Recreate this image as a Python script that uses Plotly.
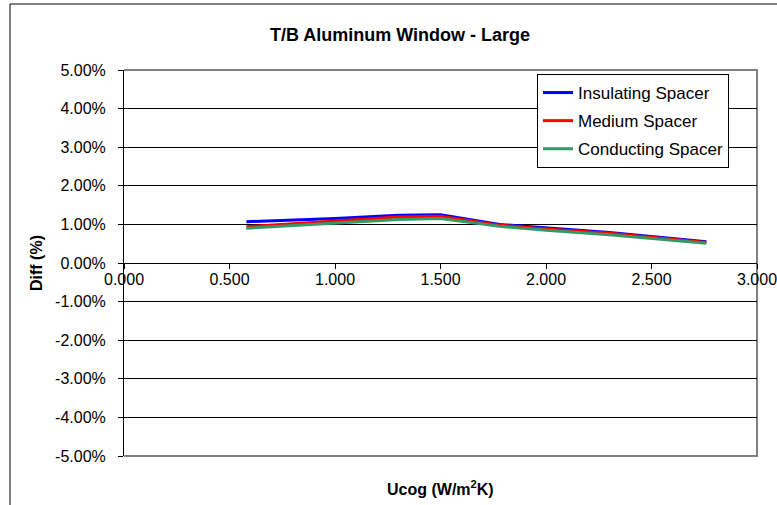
import plotly.graph_objects as go

# ---- data ----
ucog = [0.58, 1.0, 1.3, 1.5, 1.78, 2.0, 2.3, 2.76]
insulating = [1.07, 1.15, 1.24, 1.25, 1.00, 0.91, 0.79, 0.55]
medium = [0.94, 1.08, 1.19, 1.21, 0.98, 0.88, 0.77, 0.53]
conducting = [0.90, 1.03, 1.13, 1.15, 0.95, 0.85, 0.73, 0.51]

series_names = ["Insulating Spacer", "Medium Spacer", "Conducting Spacer"]
series_colors = ["#0000FF", "#FF0000", "#339966"]

ytick_vals = [-5, -4, -3, -2, -1, 0, 1, 2, 3, 4, 5]
ytick_text = ["-5.00%", "-4.00%", "-3.00%", "-2.00%", "-1.00%", "0.00%",
              "1.00%", "2.00%", "3.00%", "4.00%", "5.00%"]
xtick_vals = [0, 0.5, 1.0, 1.5, 2.0, 2.5, 3.0]
xtick_text = ["0.000", "0.500", "1.000", "1.500", "2.000", "2.500", "3.000"]

FONT = "Liberation Sans, Arial, sans-serif"

fig = go.Figure()
for i, (name, vals, col) in enumerate(zip(series_names, [insulating, medium, conducting], series_colors)):
    fig.add_trace(go.Scatter(
        x=ucog, y=vals, mode="lines", name=name,
        line=dict(color=col, width=3), legendgroup=f"g{i}",
    ))

# plot-area geometry (pixels)
L, R, T, B = 124, 757, 70, 456
W, H = 777, 505
pw, ph = R - L, B - T

def px_x(x):
    return (x - L) / pw

def px_y(y):
    return (B - y) / ph

fig.update_layout(
    width=W, height=H,
    margin=dict(l=L, r=W - R, t=T, b=H - B, pad=0, autoexpand=False),
    paper_bgcolor="white", plot_bgcolor="white",
    font=dict(family=FONT, size=16, color="black"),
    title=dict(text="<b>T/B Aluminum Window - Large</b>", font=dict(size=18, family=FONT, color="black"),
               xref="container", x=400 / W, xanchor="center",
               yref="container", y=1 - 35 / H, yanchor="middle"),
    showlegend=True,
    legend=dict(x=px_x(537), y=px_y(74), xanchor="left", yanchor="top",
                bordercolor="black", borderwidth=1, bgcolor="white",
                font=dict(size=17, family=FONT), tracegroupgap=3,
                itemwidth=30),
    xaxis=dict(range=[0, 3], tickvals=xtick_vals, ticktext=xtick_text,
               anchor="free", position=0.5, showline=True, linecolor="black", linewidth=1,
               ticks="outside", ticklen=5, tickcolor="black", showgrid=False, zeroline=False,
               tickfont=dict(size=16), ticklabelstandoff=-3, ticklabeloverflow="allow",
               automargin=False),
    yaxis=dict(range=[-5, 5], tickvals=ytick_vals, ticktext=ytick_text,
               showline=True, linecolor="black", linewidth=1, ticks="outside", ticklen=5,
               tickcolor="black", showgrid=True, gridcolor="black", gridwidth=1,
               zeroline=True, zerolinecolor="black", zerolinewidth=1,
               tickfont=dict(size=16), ticklabelstandoff=9, automargin=False,
               title=dict(text="<b>Diff (%)</b>", font=dict(size=16), standoff=8)),
    annotations=[dict(text="<b>Ucog (W/m<sup>2</sup>K)</b>", xref="paper", yref="paper",
                      x=px_x(440), y=px_y(488), xanchor="center", yanchor="middle",
                      showarrow=False, font=dict(size=16, family=FONT))],
    shapes=[
        # plot area border (gray) top/right/bottom
        dict(type="path", xref="paper", yref="paper",
             path="M 0,1 L 1,1 L 1,0 L 0,0", line=dict(color="#808080", width=2), layer="below"),
        # chart area outer border (left and top)
        dict(type="line", xref="paper", yref="paper", x0=px_x(10), x1=px_x(10), y0=px_y(505), y1=px_y(4),
             line=dict(color="black", width=1)),
        dict(type="line", xref="paper", yref="paper", x0=px_x(10), x1=px_x(777), y0=px_y(4), y1=px_y(4),
             line=dict(color="black", width=1)),
    ],
)

fig.write_html("out.html", config={"displayModeBar": False},
               post_script="document.body.style.margin='0px';")
